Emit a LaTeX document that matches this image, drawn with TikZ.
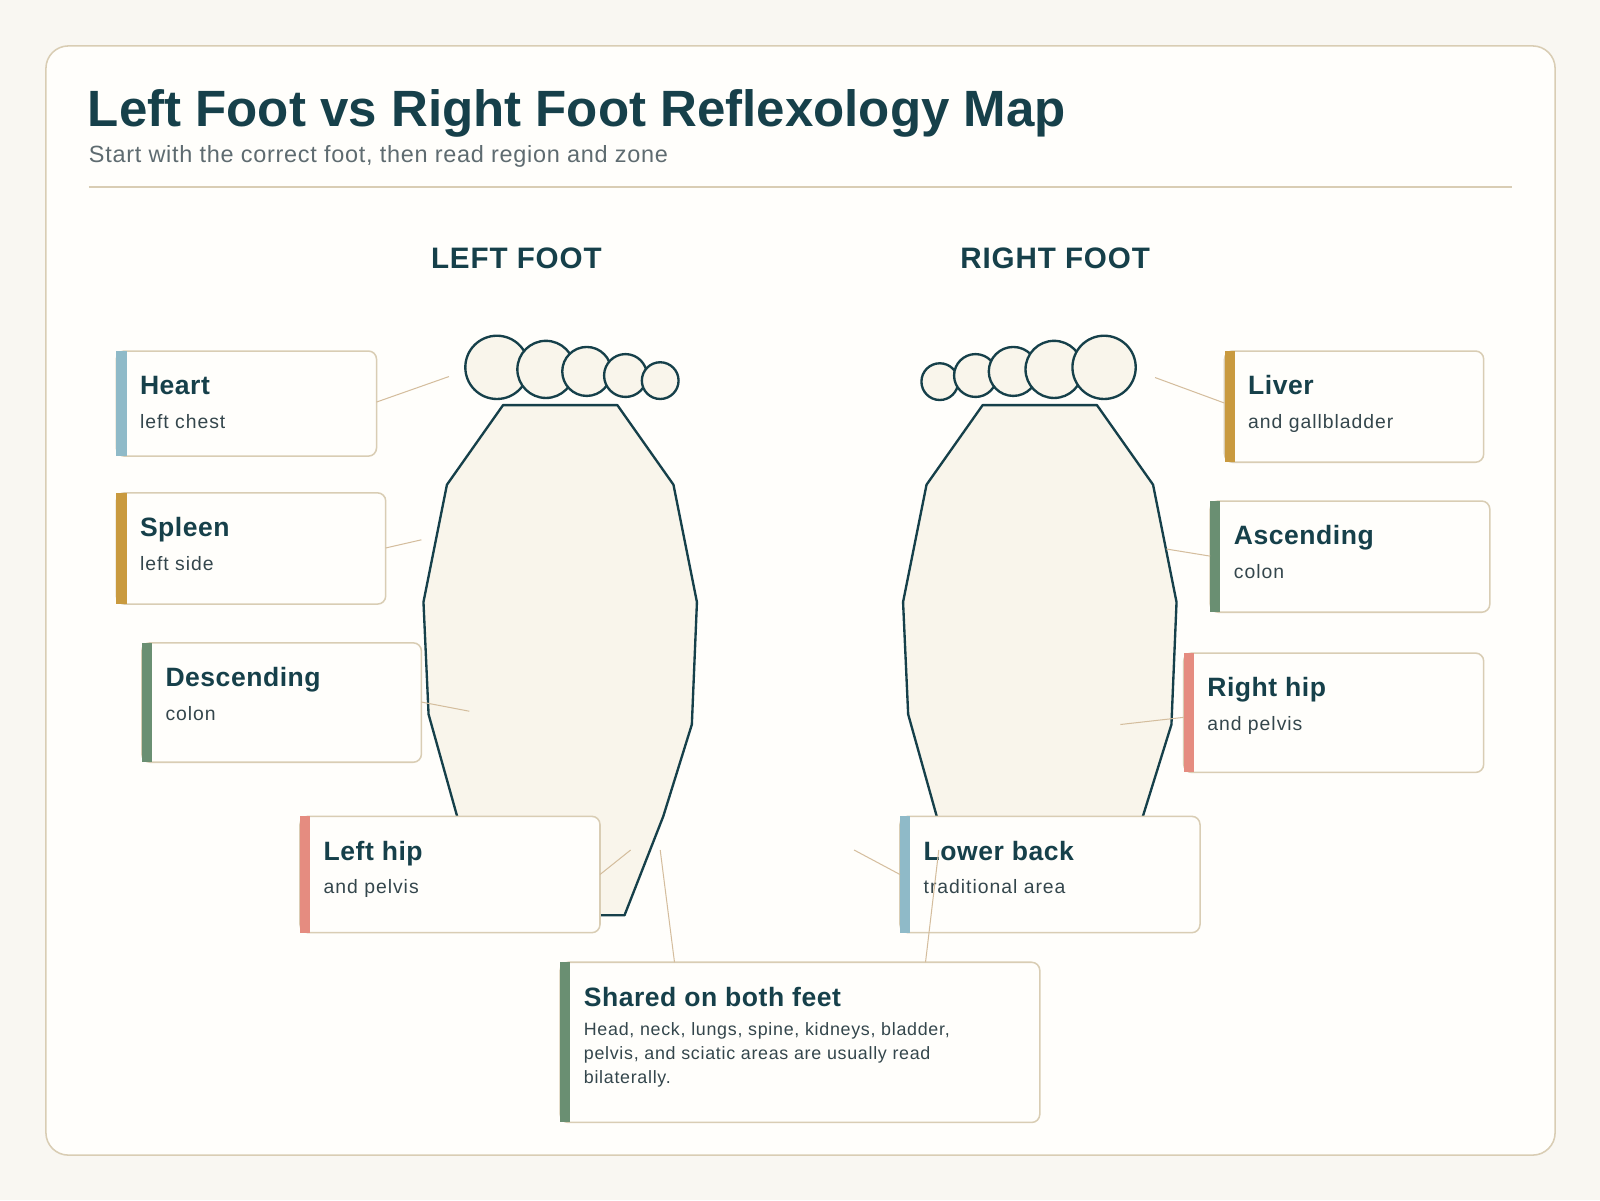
\documentclass[tikz,border=0pt]{standalone}
\usepackage{fontspec}
\setmainfont{Liberation Sans}
\newfontfamily\spaceA[LetterSpace=2]{Liberation Sans}
\newfontfamily\spaceB[LetterSpace=3]{Liberation Sans}
\newfontfamily\spaceC[LetterSpace=4]{Liberation Sans}
\newfontfamily\spaceD[LetterSpace=5]{Liberation Sans}
\definecolor{bg}{HTML}{F9F7F2}
\definecolor{card}{HTML}{FFFEFB}
\definecolor{edge}{HTML}{D9CDB4}
\definecolor{ink}{HTML}{16404A}
\definecolor{sub}{HTML}{5E6B70}
\definecolor{body}{HTML}{34464C}
\definecolor{cblue}{HTML}{8FBAC8}
\definecolor{cgold}{HTML}{C99A3F}
\definecolor{cgreen}{HTML}{6A8F72}
\definecolor{csalmon}{HTML}{E58C80}
\definecolor{footfill}{HTML}{F9F5EB}
\newcommand{\fsz}[1]{\fontsize{#1}{#1}\selectfont}
\newcommand{\labelbox}[8]{% name, x1,y1,x2,y2, color, title, subtitle
  \draw[edge,fill=card,line width=1.5,rounded corners=8] (#2,#3) rectangle (#4,#5);
  \fill[#6] (#2,#3) rectangle ++(10,#5-#3);
  \node[anchor=base west,text=ink,font=\spaceA\fsz{26}\bfseries,inner sep=0] (#1) at (#2+23,#3+43) {#7};
  \node[anchor=base west,text=body,font=\spaceD\fsz{19},inner sep=0] (#1s) at (#2+23,#3+76) {#8};
}
\begin{document}
\begin{tikzpicture}[x=1pt,y=-1pt,
  foot/.style={draw=ink,fill=footfill,line width=2.3},
  conn/.style={draw=edge!80!brown,line width=1}]
\useasboundingbox (0,0) rectangle (1568,1176);
\fill[bg] (0,0) rectangle (1568,1176);
\draw[edge,fill=card,line width=1.5,rounded corners=22] (45,45) rectangle (1524,1132);
\node[anchor=base west,text=ink,font=\fsz{50}\bfseries,inner sep=0] (title) at (86,124) {Left Foot vs Right Foot Reflexology Map};
\node[anchor=base west,text=sub,font=\spaceB\fsz{23},inner sep=0] (subt) at (87,159) {Start with the correct foot, then read region and zone};
\draw[edge,line width=1.5] (87,183) -- (1482,183);
\node[text=ink,font=\spaceB\fsz{29}\bfseries,inner sep=0] (lf) at (506,253) {LEFT FOOT};
\node[text=ink,font=\spaceB\fsz{29}\bfseries,inner sep=0] (rf) at (1034,253) {RIGHT FOOT};
% feet
\foreach \dx/\nm in {0/L,470/R}{
  \draw[foot,line join=round] (493+\dx,397) -- (605+\dx,397) -- (660+\dx,475) -- (683+\dx,590) -- (678+\dx,710) -- (650+\dx,800) -- (612+\dx,897) -- (490+\dx,897) -- (448+\dx,800) -- (420+\dx,700) -- (415+\dx,590) -- (438+\dx,475) -- cycle;
}
\foreach \x/\y/\r in {487/360/31,535/362/28,575/364/24,613/368/21,647/373/18,921/374/18,956/368/21,993/364/24,1033/362/28,1082/360/31}
  \draw[foot] (\x,\y) circle (\r);
% boxes
\labelbox{heart}{114}{344}{369}{447}{cblue}{Heart}{left chest}
\labelbox{spleen}{114}{483}{378}{592}{cgold}{Spleen}{left side}
\labelbox{desc}{139}{630}{413}{747}{cgreen}{Descending}{colon}
\labelbox{lhip}{294}{800}{588}{914}{csalmon}{Left hip}{and pelvis}
\labelbox{liver}{1200}{344}{1454}{453}{cgold}{Liver}{and gallbladder}
\labelbox{asc}{1186}{491}{1460}{600}{cgreen}{Ascending}{colon}
\labelbox{rhip}{1160}{640}{1454}{757}{csalmon}{Right hip}{and pelvis}
\labelbox{lback}{882}{800}{1176}{914}{cblue}{Lower back}{traditional area}
\draw[edge,fill=card,line width=1.5,rounded corners=8] (549,943) rectangle (1019,1100);
\fill[cgreen] (549,943) rectangle (559,1100);
\node[anchor=base west,text=ink,font=\spaceA\fsz{26}\bfseries,inner sep=0] (shared) at (572,986) {Shared on both feet};
\node[anchor=north west,text=body,font=\spaceC\fontsize{17.5}{23.5}\selectfont,inner sep=0,align=left] (sharedt) at (572,1002) {Head, neck, lungs, spine, kidneys, bladder,\\pelvis, and sciatic areas are usually read\\bilaterally.};
% connectors
\coordinate (heartA) at (369,394); \coordinate (heartB) at (440,369);
\coordinate (spA) at (378,537); \coordinate (spB) at (413,529);
\coordinate (deA) at (413,688); \coordinate (deB) at (460,697);
\coordinate (lhA) at (588,857); \coordinate (lhB) at (618,833);
\coordinate (shA) at (661,943); \coordinate (shB) at (647,833);
\coordinate (shC) at (907,943); \coordinate (shD) at (920,833);
\coordinate (lbA) at (882,857); \coordinate (lbB) at (837,833);
\coordinate (liA) at (1200,395); \coordinate (liB) at (1132,370);
\coordinate (asA) at (1186,545); \coordinate (asB) at (1143,538);
\coordinate (rhA) at (1160,703); \coordinate (rhB) at (1098,710);
\foreach \a/\b in {heartA/heartB,spA/spB,deA/deB,lhA/lhB,shA/shB,shC/shD,lbA/lbB,liA/liB,asA/asB,rhA/rhB}
  \draw[conn] (\a) -- (\b);
\end{tikzpicture}
\end{document}
